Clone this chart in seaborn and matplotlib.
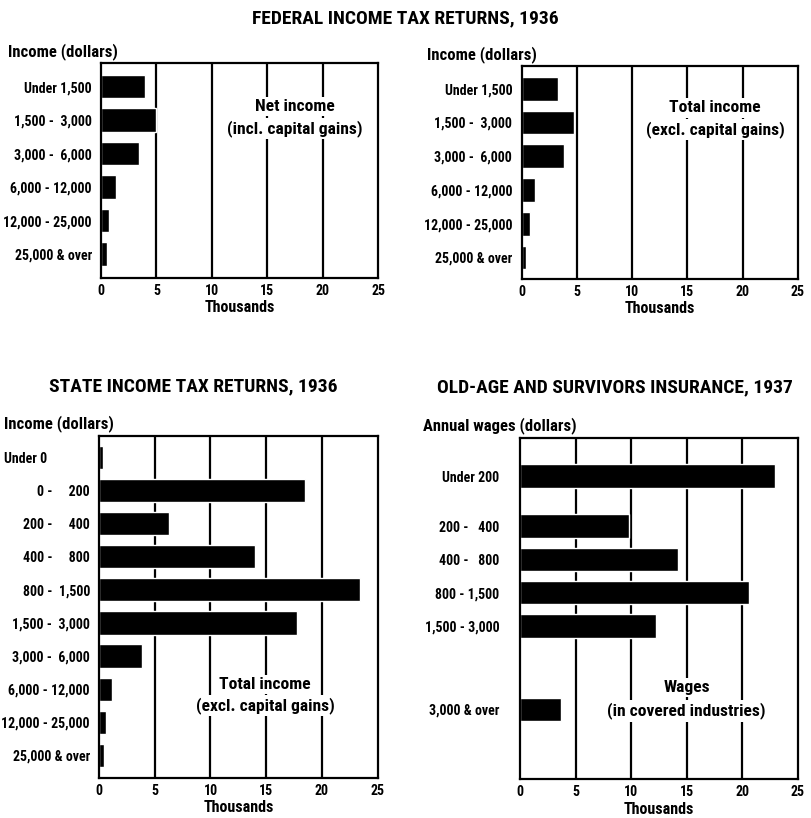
import numpy as np
import pandas as pd
import matplotlib
matplotlib.use("Agg")
import matplotlib.pyplot as plt
import seaborn as sns
from matplotlib import font_manager as fm

# ---------------- data (thousands of returns / workers) ----------------
fed_cats = ["Under 1,500", "1,500 -  3,000", "3,000 -  6,000", "6,000 - 12,000",
            "12,000 - 25,000", "25,000 & over"]
fed_net = [4.0, 5.0, 3.4, 1.35, 0.75, 0.57]
fed_total = [3.3, 4.7, 3.8, 1.2, 0.7, 0.4]

state_cats = ["Under 0", "0 -     200", "200 -     400", "400 -     800",
              "800 -  1,500", "1,500 -  3,000", "3,000 -  6,000", "6,000 - 12,000",
              "12,000 - 25,000", "25,000 & over"]
state_total = [0.35, 18.5, 6.3, 14.0, 23.4, 17.8, 3.9, 1.2, 0.6, 0.45]

oasi_cats = ["Under 200", "200 -   400", "400 -   800", "800 - 1,500",
             "1,500 - 3,000", "3,000 & over"]
oasi_wages = [23.0, 9.8, 14.2, 20.6, 12.2, 3.7]

x_ticks = [0, 5, 10, 15, 20, 25]

# layout only: vertical slots of the OASI bars (uneven spacing in the original)
oasi_slots = [0.5, 2, 3, 4, 5, 7.5]

# ---------------- style ----------------
sns.set_theme(style="white")
avail = {f.name for f in fm.fontManager.ttflist}
family = "DejaVu Sans"
for cand in ["Liberation Sans Narrow", "DejaVu Sans Condensed", "Roboto Condensed"]:
    if cand in avail:
        family = cand
        break
plt.rcParams["font.family"] = [family, "DejaVu Sans"]
plt.rcParams["text.color"] = "black"
plt.rcParams["axes.labelcolor"] = "black"
plt.rcParams["xtick.color"] = "black"
plt.rcParams["ytick.color"] = "black"
narrow = family != "DejaVu Sans"
TICK = 10 if narrow else 7.8
HEAD = 12 if narrow else 9.4
TITLE = 14 if narrow else 11.2
ANN = 12.6 if narrow else 10.2
XLAB = 11.5 if narrow else 9.6
W = "bold"

fig = plt.figure(figsize=(8.11, 8.18), dpi=100)

def style_axes(ax, ylim, ypad):
    ax.set_xlim(0, 25)
    ax.set_xticks(x_ticks)
    ax.set_xticklabels([str(t) for t in x_ticks], fontsize=TICK, fontweight=W)
    ax.set_ylim(*ylim)
    ax.grid(False)
    for v in x_ticks[1:-1]:
        ax.axvline(v, color="black", lw=1.6, zorder=0)
    for s in ax.spines.values():
        s.set_visible(True)
        s.set_color("black")
        s.set_linewidth(1.6)
    ax.tick_params(axis="both", length=0, colors="black", labelcolor="black")
    ax.tick_params(axis="x", pad=4)
    ax.tick_params(axis="y", pad=ypad)
    for lab in ax.get_yticklabels():
        lab.set_fontsize(TICK)
        lab.set_fontweight(W)
        lab.set_color("black")
    ax.set_xlabel("Thousands", fontsize=XLAB, fontweight=W, labelpad=2, color="black")
    ax.set_ylabel("")

def annotate(ax, x, y1, y2, t1, t2):
    box = dict(facecolor="white", edgecolor="none", pad=1.5)
    ax.text(x, y1, t1, ha="center", va="center", fontsize=ANN, fontweight=W, bbox=box,
            zorder=3, color="black")
    ax.text(x, y2, t2, ha="center", va="center", fontsize=ANN, fontweight=W, bbox=box,
            zorder=3, color="black")

# ---- Panel 1: Federal, net income ----
ax1 = fig.add_axes([0.1245, 0.6601, 0.3416, 0.263])
df1 = pd.DataFrame({"cat": fed_cats, "val": fed_net})
sns.barplot(data=df1, x="val", y="cat", order=fed_cats, color="black", saturation=1,
            width=0.7, errorbar=None, ax=ax1, zorder=2)
style_axes(ax1, (5.717, -0.708), 6.5)
annotate(ax1, 17.5, 0.6, 1.25, "Net income", "(incl. capital gains)")
ax1.text(-0.335, 1.012, "Income (dollars)", transform=ax1.transAxes, ha="left", va="bottom",
         fontsize=HEAD, fontweight=W, color="black")

# ---- Panel 2: Federal, total income ----
ax2 = fig.add_axes([0.6436, 0.6589, 0.34, 0.2604])
df2 = pd.DataFrame({"cat": fed_cats, "val": fed_total})
sns.barplot(data=df2, x="val", y="cat", order=fed_cats, color="black", saturation=1,
            width=0.7, errorbar=None, ax=ax2, zorder=2)
style_axes(ax2, (5.637, -0.672), 7)
annotate(ax2, 17.5, 0.57, 1.2, "Total income", "(excl. capital gains)")
ax2.text(-0.345, 1.012, "Income (dollars)", transform=ax2.transAxes, ha="left", va="bottom",
         fontsize=HEAD, fontweight=W, color="black")

# ---- Panel 3: State ----
ax3 = fig.add_axes([0.1221, 0.0489, 0.3436, 0.4185])
df3 = pd.DataFrame({"cat": state_cats, "val": state_total})
sns.barplot(data=df3, x="val", y="cat", order=state_cats, color="black", saturation=1,
            width=0.7, errorbar=None, ax=ax3, zorder=2)
style_axes(ax3, (9.68, -0.65), 6.5)
annotate(ax3, 14.9, 6.85, 7.5, "Total income", "(excl. capital gains)")
ax3.text(-0.34, 1.01, "Income (dollars)", transform=ax3.transAxes, ha="left", va="bottom",
         fontsize=HEAD, fontweight=W, color="black")
first = ax3.get_yticklabels()[0]
first.set_horizontalalignment("left")
first.set_x(-0.31)

# ---- Panel 4: OASI ----
ax4 = fig.add_axes([0.6412, 0.0473, 0.3424, 0.4176])
df4 = pd.DataFrame({"pos": oasi_slots, "val": oasi_wages})
sns.barplot(data=df4, x="val", y="pos", orient="y", native_scale=True, color="black",
            saturation=1, width=0.7, errorbar=None, ax=ax4, zorder=2)
ax4.set_yticks(oasi_slots)
ax4.set_yticklabels(oasi_cats)
style_axes(ax4, (9.6, -0.65), 15)
annotate(ax4, 15.0, 6.85, 7.55, "Wages", "(in covered industries)")
ax4.text(-0.35, 1.01, "Annual wages (dollars)", transform=ax4.transAxes, ha="left",
         va="bottom", fontsize=HEAD, fontweight=W, color="black")

# ---- titles ----
fig.text(0.5, 0.978, "FEDERAL INCOME TAX RETURNS, 1936", ha="center", va="center",
         fontsize=TITLE, fontweight=W, color="black")
fig.text(0.238, 0.528, "STATE INCOME TAX RETURNS, 1936", ha="center", va="center",
         fontsize=TITLE, fontweight=W, color="black")
fig.text(0.758, 0.526, "OLD-AGE AND SURVIVORS INSURANCE, 1937", ha="center", va="center",
         fontsize=TITLE, fontweight=W, color="black")

fig.savefig("out.png", dpi=100, facecolor="white")
